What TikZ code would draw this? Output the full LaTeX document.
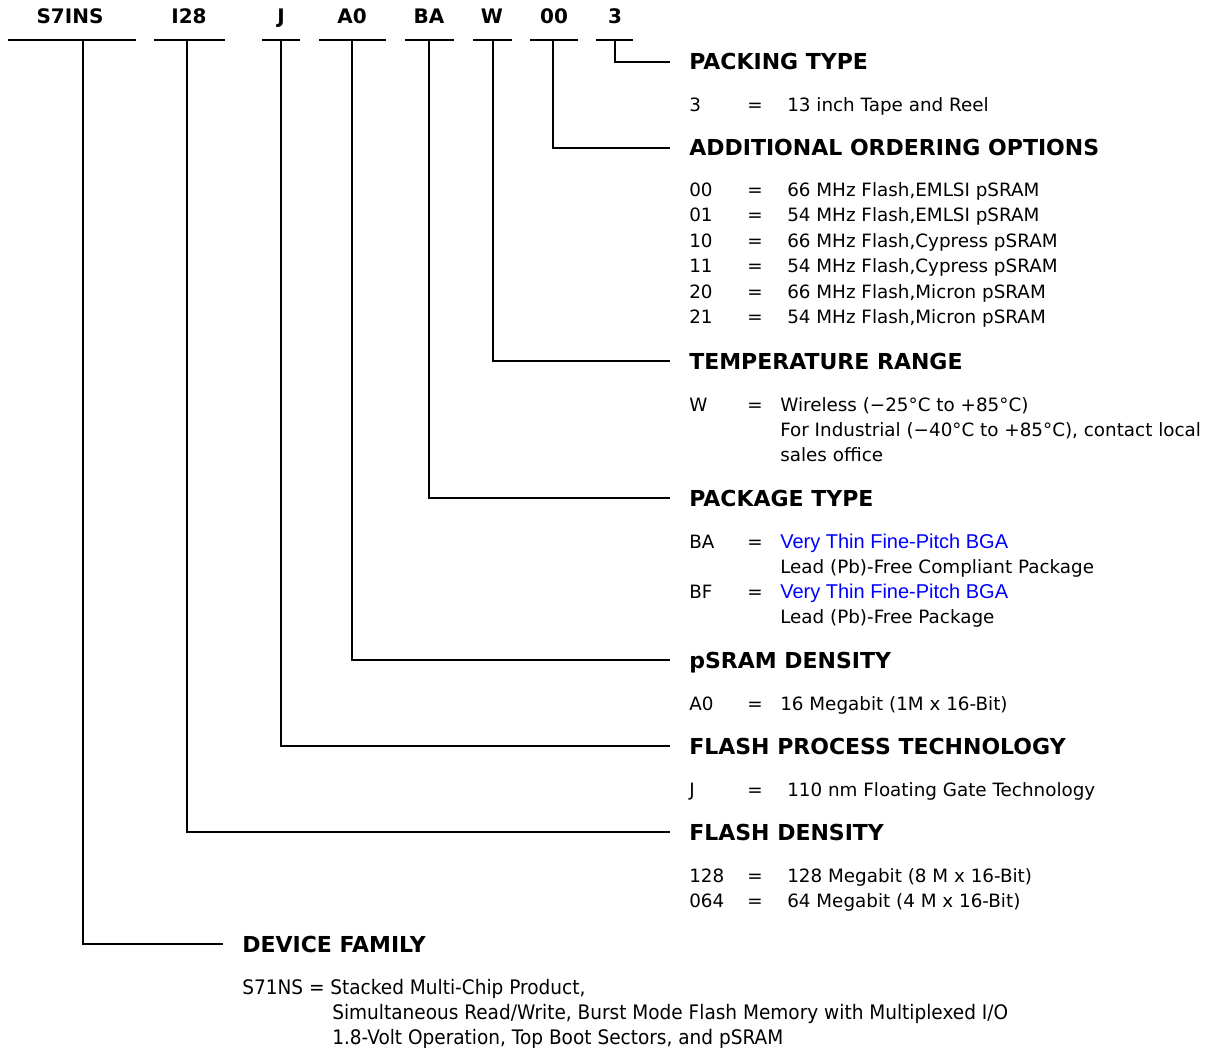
\documentclass[tikz,border=0pt]{standalone}
\usepackage{fontspec}
\setmainfont{DejaVu Sans}
\newfontfamily\linkfont{Liberation Sans}
\newfontfamily\narrowfont{DejaVu Sans}[FakeStretch=0.925]
\usetikzlibrary{positioning}

\begin{document}
\begin{tikzpicture}[x=0.75pt,y=-0.75pt,
    wire/.style={line width=1.5pt},
    part/.style={font=\fontsize{15}{18}\selectfont\bfseries,anchor=base,inner sep=0pt},
    head/.style={font=\fontsize{16.5}{19}\selectfont\bfseries,anchor=base west,inner xsep=14.25pt,inner ysep=0pt,text depth=0pt},
    txt/.style={font=\fontsize{13.75}{16}\selectfont,anchor=base west,inner sep=0pt},
    eq/.style={font=\fontsize{13.75}{16}\selectfont,anchor=base,inner sep=0pt},
    link/.style={txt,font=\fontsize{15}{18}\selectfont\linkfont,text=blue},
    fam/.style={txt,font=\fontsize{15}{18}\selectfont\narrowfont}]
    \useasboundingbox (0,0) rectangle (1209,1048);

    % part number
    \node[part] (pS) at (70,24) {S7INS};
    \node[part] (pD) at (189,24) {I28};
    \node[part] (pJ) at (281,24) {J};
    \node[part] (pA) at (352,24) {A0};
    \node[part] (pB) at (429,24) {BA};
    \node[part] (pW) at (492,24) {W};
    \node[part] (pO) at (554,24) {00};
    \node[part] (pP) at (615,24) {3};
    \foreach \a/\b in {8/136,154/225,262/300,319/386,405/454,473/512,530/578,596/633}
        \draw[wire] (\a,40) -- (\b,40);
    \foreach \n/\x in {S/83,D/187,J/281,A/352,B/429,W/493,O/553,P/615}
        \coordinate (s\n) at (\x,40);

    % headings
    \node[head] (hPack) at (670,70) {PACKING TYPE};
    \node[head] (hOpt) at (670,156) {ADDITIONAL ORDERING OPTIONS};
    \node[head] (hTemp) at (670,369) {TEMPERATURE RANGE};
    \node[head] (hPkg) at (670,506) {PACKAGE TYPE};
    \node[head] (hRam) at (670,668) {pSRAM DENSITY};
    \node[head] (hTech) at (670,754) {FLASH PROCESS TECHNOLOGY};
    \node[head] (hDens) at (670,840) {FLASH DENSITY};
    \node[head] (hDev) at (223,952) {DEVICE FAMILY};

    \draw[wire] (sP) |- (hPack.west);
    \draw[wire] (sO) |- (hOpt.west);
    \draw[wire] (sW) |- (hTemp.west);
    \draw[wire] (sB) |- (hPkg.west);
    \draw[wire] (sA) |- (hRam.west);
    \draw[wire] (sJ) |- (hTech.west);
    \draw[wire] (sD) |- (hDens.west);
    \draw[wire] (sS) |- (hDev.west);

    % packing type
    \node[txt] (c3) at (689,112) {3};
    \node[eq] (e3) at (755,112) {=};
    \node[txt] (d3) at (787,112) {13 inch Tape and Reel};

    % ordering options
    \foreach \c/\d/\y in {00/{66 MHz Flash,EMLSI pSRAM}/197,
                          01/{54 MHz Flash,EMLSI pSRAM}/222,
                          10/{66 MHz Flash,Cypress pSRAM}/248,
                          11/{54 MHz Flash,Cypress pSRAM}/273,
                          20/{66 MHz Flash,Micron pSRAM}/299,
                          21/{54 MHz Flash,Micron pSRAM}/324}{
        \node[txt] (c\c) at (689,\y) {\c};
        \node[eq] (e\c) at (755,\y) {=};
        \node[txt] (d\c) at (787,\y) {\d};
    }

    % temperature
    \node[txt] (cW) at (689,411) {W};
    \node[eq] (eW) at (755,411) {=};
    \node[txt] (dW1) at (780,411) {Wireless (−25°C to +85°C)};
    \node[txt] (dW2) at (780,436) {For Industrial (−40°C to +85°C), contact local};
    \node[txt] (dW3) at (780,461) {sales office};

    % package
    \node[txt] (cBA) at (689,548) {BA};
    \node[eq] (eBA) at (755,548) {=};
    \node[link] (dBA1) at (780,548) {Very Thin Fine-Pitch BGA};
    \node[txt] (dBA2) at (780,573) {Lead (Pb)-Free Compliant Package};
    \node[txt] (cBF) at (689,598) {BF};
    \node[eq] (eBF) at (755,598) {=};
    \node[link] (dBF1) at (780,598) {Very Thin Fine-Pitch BGA};
    \node[txt] (dBF2) at (780,623) {Lead (Pb)-Free Package};

    % psram
    \node[txt] (cA0) at (689,710) {A0};
    \node[eq] (eA0) at (755,710) {=};
    \node[txt] (dA0) at (780,710) {16 Megabit (1M x 16-Bit)};

    % process
    \node[txt] (cJ) at (689,796) {J};
    \node[eq] (eJ) at (755,796) {=};
    \node[txt] (dJ) at (787,796) {110 nm Floating Gate Technology};

    % density
    \node[txt] (c128) at (689,882) {128};
    \node[eq] (e128) at (755,882) {=};
    \node[txt] (d128) at (787,882) {128 Megabit (8 M x 16-Bit)};
    \node[txt] (c064) at (689,907) {064};
    \node[eq] (e064) at (755,907) {=};
    \node[txt] (d064) at (787,907) {64 Megabit (4 M x 16-Bit)};

    % family
    \node[fam] (dF1) at (242,994) {S71NS = Stacked Multi-Chip Product,};
    \node[fam] (dF2) at (332,1019) {Simultaneous Read/Write, Burst Mode Flash Memory with Multiplexed I/O};
    \node[fam] (dF3) at (332,1044) {1.8-Volt Operation, Top Boot Sectors, and pSRAM};
\end{tikzpicture}
\end{document}
